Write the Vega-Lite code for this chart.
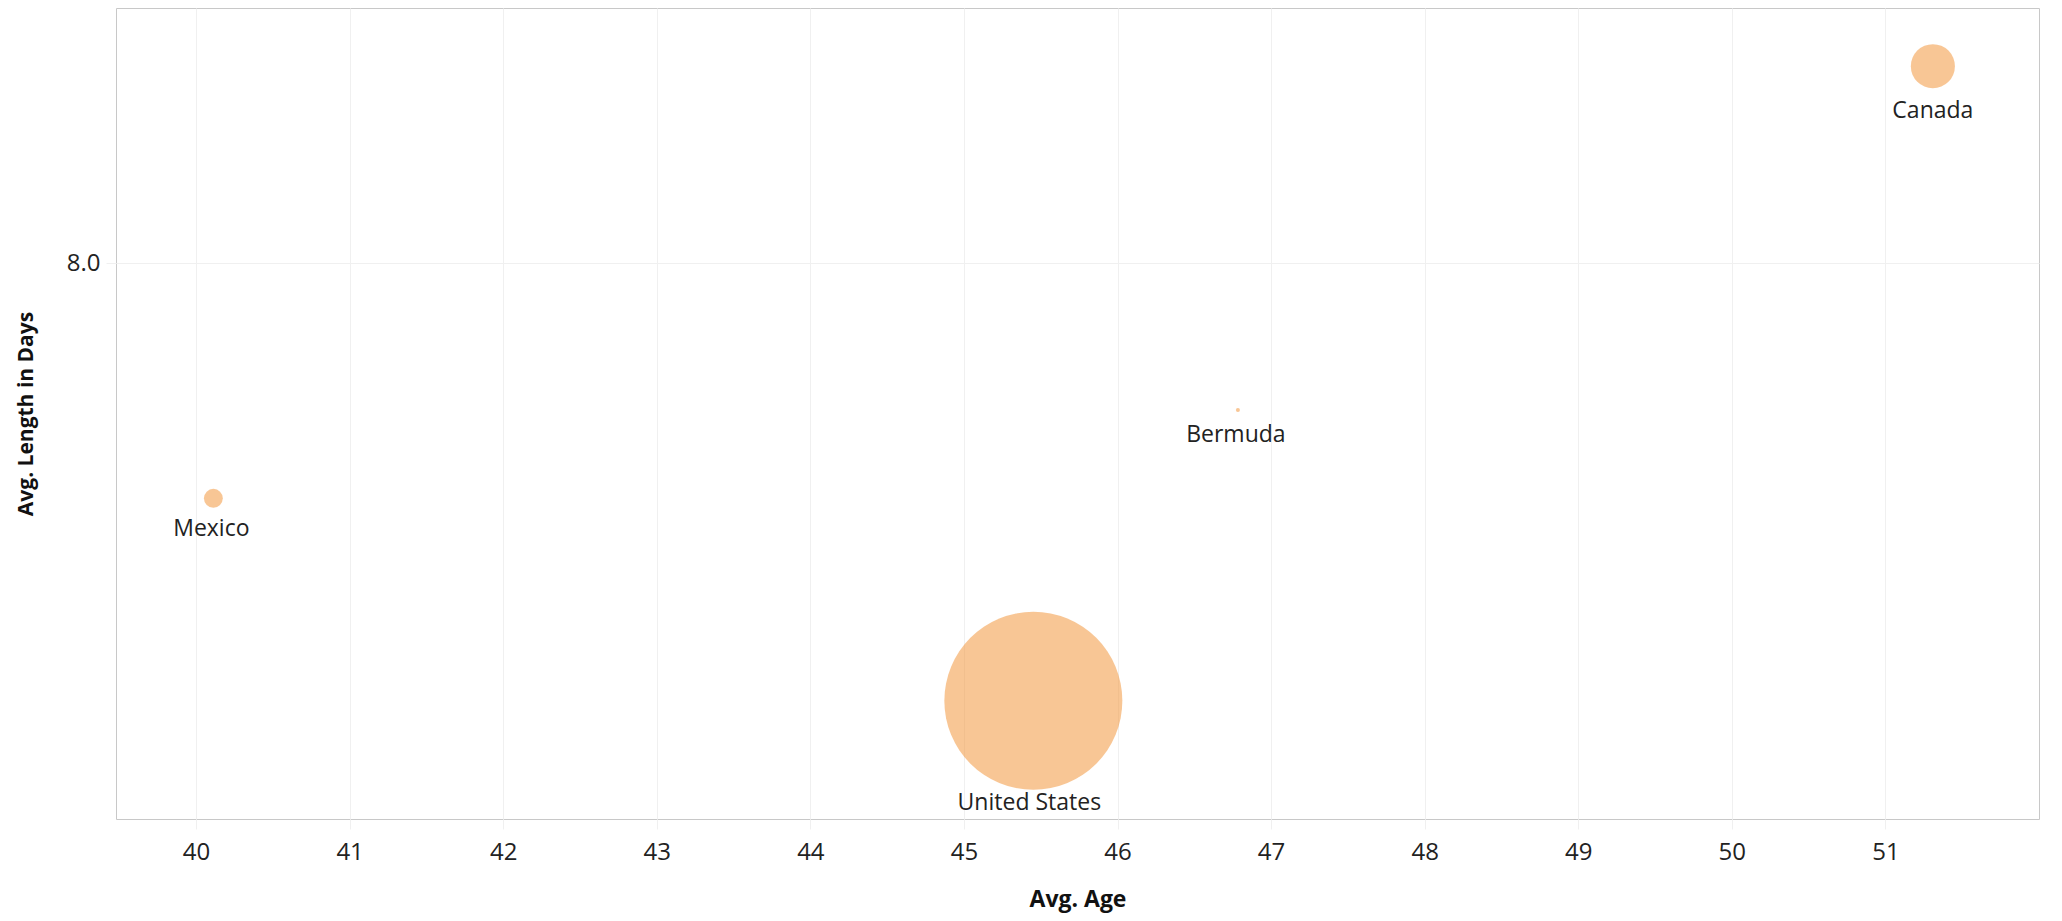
{
  "$schema": "https://vega.github.io/schema/vega-lite/v6.json",
  "width": 1923,
  "height": 811,
  "autosize": {"type": "none"},
  "padding": {"left": 116, "top": 8, "right": 23, "bottom": 102},
  "background": "white",
  "data": {
    "values": [
      {"country": "Canada", "age": 51.309, "days": 8.3285, "count": 120},
      {"country": "Bermuda", "age": 46.784, "days": 7.7555, "count": 1},
      {"country": "Mexico", "age": 40.113, "days": 7.6083, "count": 22},
      {"country": "United States", "age": 45.452, "days": 7.2708, "count": 1958}
    ]
  },
  "encoding": {
    "x": {
      "field": "age",
      "type": "quantitative",
      "title": "Avg. Age",
      "scale": {"domain": [39.479, 52.0], "nice": false, "zero": false},
      "axis": {
        "values": [40, 41, 42, 43, 44, 45, 46, 47, 48, 49, 50, 51],
        "format": "d",
        "grid": true,
        "gridColor": "#f0f0f0",
        "domain": false,
        "tickColor": "#f0f0f0",
        "tickSize": 10,
        "labelFontSize": 24,
        "labelColor": "#222222",
        "labelPadding": 11,
        "titleFontSize": 23,
        "titleFontWeight": "bold",
        "titleColor": "#111111",
        "titleY": 87,
        "titleBaseline": "alphabetic"
      }
    },
    "y": {
      "field": "days",
      "type": "quantitative",
      "title": "Avg. Length in Days",
      "scale": {"domain": [7.0738, 8.4255], "nice": false, "zero": false},
      "axis": {
        "values": [8],
        "format": ".1f",
        "grid": true,
        "gridColor": "#f0f0f0",
        "domain": false,
        "tickColor": "#f0f0f0",
        "tickSize": 10,
        "labelFontSize": 24,
        "labelColor": "#222222",
        "labelPadding": 6,
        "titleFontSize": 21,
        "titleFontWeight": "bold",
        "titleColor": "#111111",
        "titleX": -90,
        "titleBaseline": "middle"
      }
    }
  },
  "layer": [
    {
      "mark": {"type": "circle", "color": "#f28e2b", "opacity": 0.5, "strokeWidth": 0},
      "encoding": {
        "size": {
          "field": "count",
          "type": "quantitative",
          "scale": {"domain": [0, 1958], "range": [0, 31684]},
          "legend": null
        }
      }
    },
    {
      "transform": [{"filter": "datum.country == 'Canada'"}],
      "mark": {"type": "text", "baseline": "alphabetic", "align": "center", "dy": 52, "fontSize": 23, "color": "#222222"},
      "encoding": {"text": {"field": "country"}}
    },
    {
      "transform": [{"filter": "datum.country == 'Bermuda'"}],
      "mark": {"type": "text", "baseline": "alphabetic", "align": "center", "dy": 32, "dx": -2, "fontSize": 23, "color": "#222222"},
      "encoding": {"text": {"field": "country"}}
    },
    {
      "transform": [{"filter": "datum.country == 'Mexico'"}],
      "mark": {"type": "text", "baseline": "alphabetic", "align": "center", "dy": 38, "dx": -2, "fontSize": 23, "color": "#222222"},
      "encoding": {"text": {"field": "country"}}
    },
    {
      "transform": [{"filter": "datum.country == 'United States'"}],
      "mark": {"type": "text", "baseline": "alphabetic", "align": "center", "dy": 109, "dx": -4, "fontSize": 23, "color": "#222222"},
      "encoding": {"text": {"field": "country"}}
    }
  ],
  "config": {
    "view": {"stroke": "#c8c8c8"},
    "font": "Open Sans"
  }
}
